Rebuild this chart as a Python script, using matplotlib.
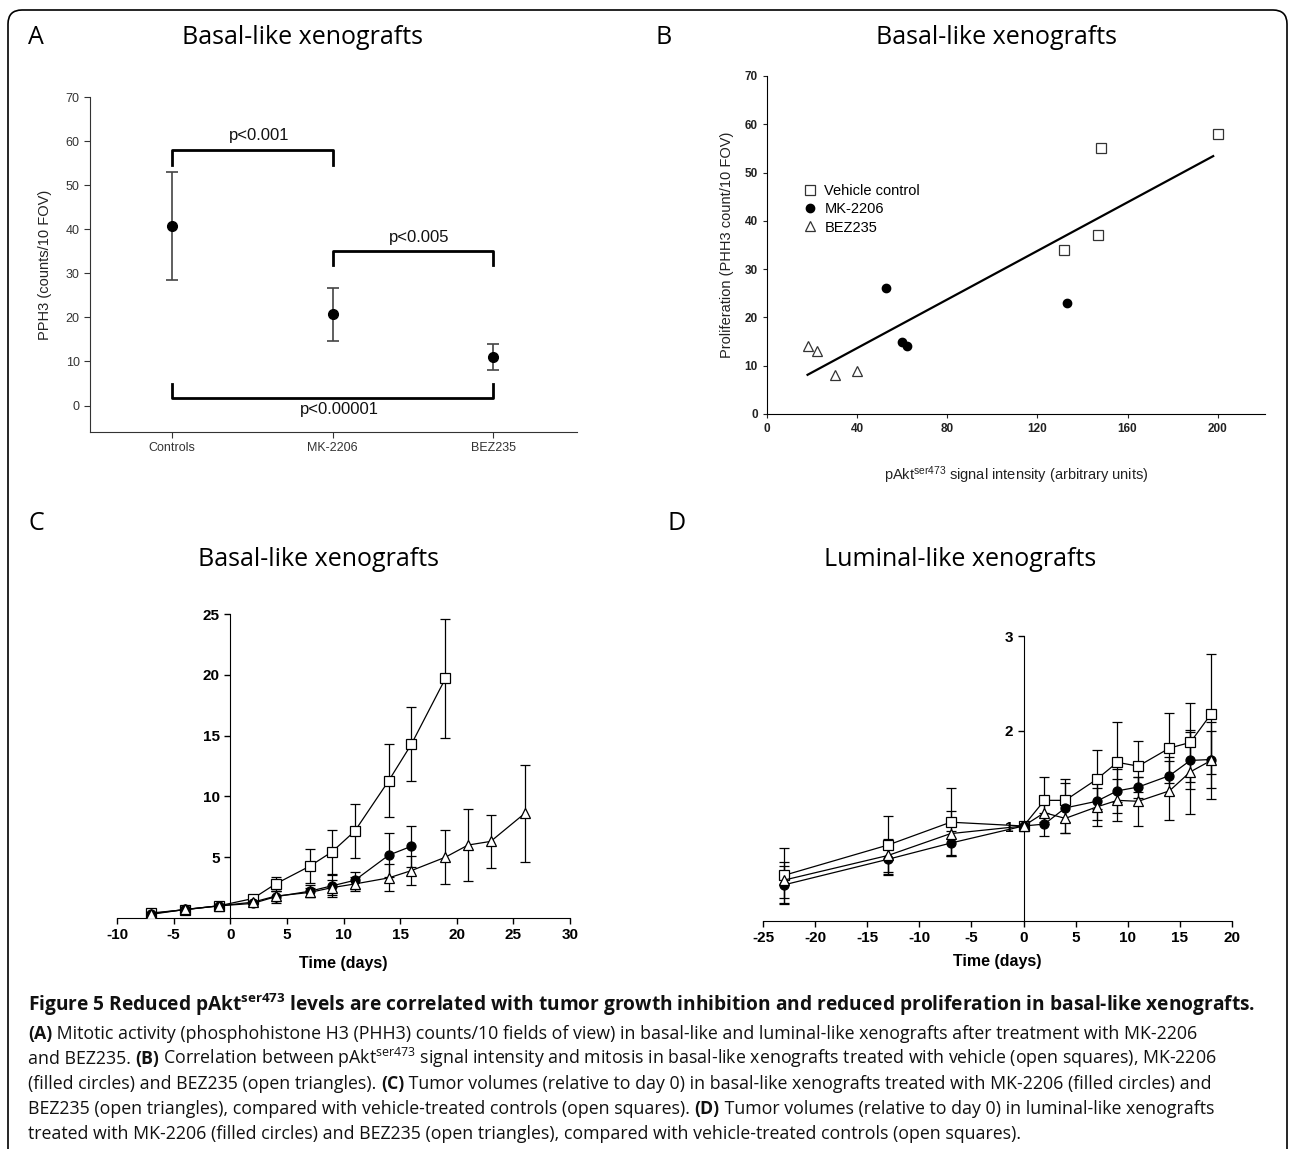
import matplotlib
matplotlib.use('Agg')
import matplotlib.pyplot as plt
import numpy as np
from matplotlib.patches import FancyBboxPatch
from matplotlib.transforms import IdentityTransform

plt.rcParams['font.family'] = ['Liberation Sans', 'DejaVu Sans']
plt.rcParams['mathtext.default'] = 'regular'
plt.rcParams['axes.unicode_minus'] = False

W, H = 1290, 1149
TITLE_FONT = ['Open Sans', 'DejaVu Sans']
CAP_FONT = ['Open Sans', 'DejaVu Sans']

# ---- panel A data
groups = ['Controls', 'MK-2206', 'BEZ235']
pph3_mean = [40.7, 20.7, 11.0]
pph3_err = [12.3, 6.0, 3.0]
comparisons = [(0, 1, 'p<0.001'), (1, 2, 'p<0.005'), (0, 2, 'p<0.00001')]

# ---- panel B data
veh_pakt = [132, 147, 148, 200]
veh_prolif = [34, 37, 55, 58]
mk_pakt = [53, 60, 62, 133]
mk_prolif = [26, 15, 14, 23]
bez_pakt = [18, 22, 30, 40]
bez_prolif = [14, 13, 8, 9]

# ---- panel C data (basal-like tumour volume)
c_veh_days = [-7, -4, -1, 2, 4, 7, 9, 11, 14, 16, 19]
c_veh_vol = [0.41, 0.68, 1.0, 1.6, 2.8, 4.25, 5.45, 7.15, 11.3, 14.3, 19.7]
c_veh_err = [0.1, 0.1, 0.1, 0.25, 0.6, 1.4, 1.8, 2.25, 3.0, 3.05, 4.9]
c_mk_days = [-7, -4, -1, 2, 4, 7, 9, 11, 14, 16]
c_mk_vol = [0.3, 0.7, 1.0, 1.2, 1.75, 2.2, 2.65, 3.1, 5.17, 5.9]
c_mk_err = [0.1, 0.1, 0.1, 0.2, 0.5, 0.5, 0.9, 0.7, 1.8, 1.7]
c_bez_days = [-7, -4, -1, 2, 4, 7, 9, 11, 14, 16, 19, 21, 23, 26]
c_bez_vol = [0.35, 0.7, 1.0, 1.3, 1.8, 2.1, 2.5, 2.8, 3.3, 3.9, 5.0, 6.0, 6.3, 8.6]
c_bez_err = [0.1, 0.1, 0.1, 0.2, 0.4, 0.4, 0.6, 0.6, 1.1, 1.2, 2.2, 2.95, 2.2, 4.0]

# ---- panel D data (luminal-like tumour volume)
d_days = [-23, -13, -7, 0, 2, 4, 7, 9, 11, 14, 16, 18]
d_veh_vol = [0.48, 0.8, 1.04, 1.0, 1.27, 1.27, 1.49, 1.67, 1.63, 1.82, 1.88, 2.18]
d_veh_err = [0.29, 0.31, 0.36, 0.0, 0.25, 0.23, 0.31, 0.42, 0.27, 0.37, 0.42, 0.63]
d_mk_vol = [0.38, 0.65, 0.82, 1.0, 1.02, 1.19, 1.26, 1.37, 1.41, 1.53, 1.69, 1.70]
d_mk_err = [0.2, 0.17, 0.13, 0.0, 0.12, 0.26, 0.2, 0.23, 0.11, 0.2, 0.3, 0.3]
d_bez_vol = [0.43, 0.69, 0.92, 1.0, 1.14, 1.08, 1.2, 1.27, 1.26, 1.37, 1.57, 1.69]
d_bez_err = [0.19, 0.17, 0.24, 0.0, 0.1, 0.15, 0.2, 0.22, 0.26, 0.31, 0.44, 0.41]


def fx(px):
    return px / W


def fy(py):
    return 1 - py / H


def text_px(fig, r, s, kw):
    t1 = fig.text(0, 0, s + '|', **kw)
    t2 = fig.text(0, 0, '|', **kw)
    w = t1.get_window_extent(r).width - t2.get_window_extent(r).width
    t1.remove()
    t2.remove()
    return w


def caption_line(fig, x, y, parts, size):
    r = fig.canvas.get_renderer()
    cx = x
    for s, w in parts:
        kw = dict(fontsize=size, fontweight=w, family=CAP_FONT, color='#111')
        fig.text(fx(cx), fy(y), s, va='baseline', ha='left', **kw)
        cx += text_px(fig, r, s, kw)


def series(ax, x, y, err, marker, face, ms):
    ax.errorbar(x, y, yerr=err, color='black', lw=0.9, elinewidth=0.9,
                capsize=3.5, capthick=0.9, marker=marker, mfc=face,
                mec='black', mew=0.9, ms=ms, zorder=3)


def main():
    fig = plt.figure(figsize=(W / 100, H / 100), dpi=100)

    # frame round the whole figure
    frame = FancyBboxPatch((8, -30), 1279, H - 10 + 30,
                           boxstyle='round,pad=0,rounding_size=14',
                           transform=IdentityTransform(), fill=False,
                           lw=1.2, edgecolor='black')
    fig.patches.append(frame)

    # panel letters and titles
    for lab, x, y in [('A', 28, 37), ('B', 655, 37), ('C', 28, 523), ('D', 668, 523)]:
        fig.text(fx(x), fy(y), lab, fontsize=18, family=TITLE_FONT, va='center', ha='left')
    for ttl, x, y in [('Basal-like xenografts', 302, 37), ('Basal-like xenografts', 997, 37),
                      ('Basal-like xenografts', 318, 560), ('Luminal-like xenografts', 960, 560)]:
        fig.text(fx(x), fy(y), ttl, fontsize=18, family=TITLE_FONT, va='center', ha='center')

    # ---- A
    axA = fig.add_axes([fx(90), fy(432), fx(577) - fx(90), fy(97) - fy(432)])
    xs = np.arange(len(groups))
    axA.errorbar(xs, pph3_mean, yerr=pph3_err, fmt='o', color='black', ms=7,
                 ecolor='#444', elinewidth=1.2, capsize=4, capthick=1.2)
    bracket_y = [(58, 54.5, 59.5), (35, 32, 36.5), (1.8, 5.0, 0.8)]
    for (a, b, lab), (yl, yt, ytxt) in zip(comparisons, bracket_y):
        axA.plot([a, a, b, b], [yt, yl, yl, yt], color='black', lw=2)
        va = 'bottom' if yt < yl else 'top'
        axA.text((a + b) / 2 + 0.04, ytxt, lab, ha='center', va=va, fontsize=12, color='#111')
    axA.set_xlim(-0.51, 2.52)
    axA.set_ylim(-6, 70)
    axA.set_yticks(range(0, 71, 10))
    axA.set_xticks(xs)
    axA.set_xticklabels(groups)
    axA.spines['top'].set_visible(False)
    axA.spines['right'].set_visible(False)
    for s in ['left', 'bottom']:
        axA.spines[s].set_color('#333')
    axA.tick_params(labelsize=9, colors='#333', length=4)
    axA.set_ylabel('PPH3 (counts/10 FOV)', fontsize=10.5, color='#222', labelpad=10)

    # ---- B
    axB = fig.add_axes([fx(767), fy(414), fx(1265) - fx(767), fy(76) - fy(414)])
    axB.plot(veh_pakt, veh_prolif, 's', mfc='white', mec='#333', mew=0.9, ms=6.5, label='Vehicle control')
    axB.plot(mk_pakt, mk_prolif, 'o', color='black', ms=6, label='MK-2206')
    axB.plot(bez_pakt, bez_prolif, '^', mfc='white', mec='#333', mew=0.9, ms=6.5, label='BEZ235')
    all_x = np.array(veh_pakt + mk_pakt + bez_pakt)
    all_y = np.array(veh_prolif + mk_prolif + bez_prolif)
    k, c = np.polyfit(all_x, all_y, 1)
    lx = np.array([all_x.min(), 198])
    axB.plot(lx, k * lx + c, color='black', lw=1.6)
    axB.set_xlim(0, 221)
    axB.set_ylim(0, 70)
    axB.set_xticks(range(0, 201, 40))
    axB.set_yticks(range(0, 71, 10))
    axB.spines['top'].set_visible(False)
    axB.spines['right'].set_visible(False)
    axB.tick_params(labelsize=8.5, length=3, colors='#222')
    for t in axB.get_xticklabels() + axB.get_yticklabels():
        t.set_fontweight('bold')
    axB.set_ylabel('Proliferation (PHH3 count/10 FOV)', fontsize=10.5, color='#222', labelpad=8)
    axB.set_xlabel('pAkt$^{ser473}$ signal intensity (arbitrary units)', fontsize=10.5,
                   color='#222', labelpad=21)
    axB.legend(loc='upper left', bbox_to_anchor=(0.045, 0.72), frameon=False, fontsize=10.5,
               handlelength=1.0, handletextpad=0.5, labelspacing=0.3)

    # ---- C
    axC = fig.add_axes([fx(117), fy(918), fx(570) - fx(117), fy(614) - fy(918)])
    series(axC, c_veh_days, c_veh_vol, c_veh_err, 's', 'white', 6.5)
    series(axC, c_mk_days, c_mk_vol, c_mk_err, 'o', 'black', 6.5)
    series(axC, c_bez_days, c_bez_vol, c_bez_err, '^', 'white', 7)
    axC.set_xlim(-10, 30)
    axC.set_ylim(0, 25)
    axC.set_xticks(range(-10, 31, 5))
    axC.set_yticks(range(5, 26, 5))
    axC.spines['left'].set_position(('data', 0))
    axC.spines['top'].set_visible(False)
    axC.spines['right'].set_visible(False)
    axC.tick_params(labelsize=11, length=4, width=1)
    for t in axC.get_xticklabels() + axC.get_yticklabels():
        t.set_fontweight('bold')
    axC.set_xlabel('Time (days)', fontsize=11.5, fontweight='bold', labelpad=10)

    # ---- D
    axD = fig.add_axes([fx(763), fy(921), fx(1232) - fx(763), fy(636) - fy(921)])
    series(axD, d_days, d_veh_vol, d_veh_err, 's', 'white', 6.5)
    series(axD, d_days, d_mk_vol, d_mk_err, 'o', 'black', 6.5)
    series(axD, d_days, d_bez_vol, d_bez_err, '^', 'white', 7)
    axD.set_xlim(-25, 20)
    axD.set_ylim(0, 3)
    axD.set_xticks(range(-25, 21, 5))
    axD.set_yticks([1, 2, 3])
    axD.spines['left'].set_position(('data', 0))
    axD.spines['top'].set_visible(False)
    axD.spines['right'].set_visible(False)
    axD.tick_params(labelsize=11, length=4, width=1)
    for t in axD.get_xticklabels() + axD.get_yticklabels():
        t.set_fontweight('bold')
    axD.set_xlabel('Time (days)', fontsize=11.5, fontweight='bold', labelpad=6)

    # ---- caption
    n, b = 'normal', 'bold'
    lines = [
        [('Figure 5 Reduced pAkt$^{ser473}$ levels are correlated with tumor growth inhibition '
          'and reduced proliferation in basal-like xenografts.', b)],
        [('(A)', b), (' Mitotic activity (phosphohistone H3 (PHH3) counts/10 fields of view) in basal-like '
                      'and luminal-like xenografts after treatment with MK-2206', n)],
        [('and BEZ235. ', n), ('(B)', b), (' Correlation between pAkt$^{ser473}$ signal intensity and mitosis '
                                          'in basal-like xenografts treated with vehicle (open squares), MK-2206', n)],
        [('(filled circles) and BEZ235 (open triangles). ', n), ('(C)', b),
         (' Tumor volumes (relative to day 0) in basal-like xenografts treated with MK-2206 (filled circles) and', n)],
        [('BEZ235 (open triangles), compared with vehicle-treated controls (open squares). ', n), ('(D)', b),
         (' Tumor volumes (relative to day 0) in luminal-like xenografts', n)],
        [('treated with MK-2206 (filled circles) and BEZ235 (open triangles), compared with '
          'vehicle-treated controls (open squares).', n)],
    ]
    base_y = [1011, 1039, 1064, 1089, 1114, 1139]
    sizes = [13.8, 12.8, 12.8, 12.8, 12.8, 12.8]
    for parts, y, sz in zip(lines, base_y, sizes):
        caption_line(fig, 28, y, parts, sz)

    fig.savefig('out.png', dpi=100)


if __name__ == '__main__':
    main()
